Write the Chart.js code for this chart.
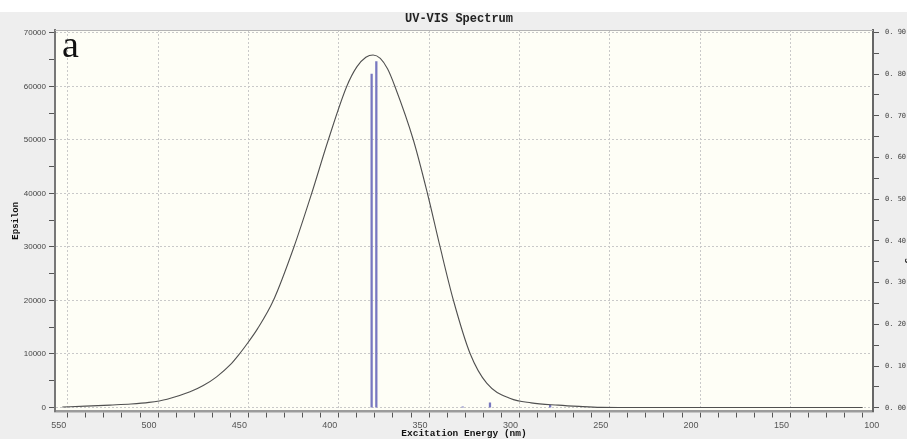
<!DOCTYPE html>
<html>
<head>
<meta charset="utf-8">
<title>UV-VIS Spectrum</title>
<script src="https://cdn.jsdelivr.net/npm/chart.js@4.4.0/dist/chart.umd.min.js"></script>
<style>
    html, body { margin: 0; padding: 0; background: #fff; overflow: hidden; }
    #panel { position: absolute; left: 0; top: 12px; width: 918px; height: 434px; background: #eeeeee; }
</style>
</head>
<body>
<div id="panel"><canvas id="uvChart"></canvas></div>
<script>
// broadened absorption band: wavelength (nm) and epsilon
const wavelengths = [548, 535, 521.6, 510, 500, 490, 477.3, 470, 462.6, 455, 450, 445, 440, 431.2,
    419.8, 410, 400.8, 390.6, 385, 380, 376, 372, 368, 363.9, 353.7, 345.9, 338.9, 331.5, 322.2,
    313, 300, 288.5, 273.6, 262, 250, 240, 200, 150, 105];
const epsilon = [80, 250, 450, 640, 950, 1550, 2930, 4100, 5730, 8000, 10000, 12250, 14700, 20000,
    30000, 40000, 50000, 60000, 63660, 65460, 65900, 65250, 63300, 60000, 50000, 40000, 30000,
    20000, 10000, 4490, 1680, 870, 440, 200, 20, 0, 0, 0, 0];

// excited states: wavelength (nm) and oscillator strength
const stateWavelengths = [376.8, 374.2, 326.4, 311.3, 278.0];
const oscStrengths = [0.80, 0.83, 0.002, 0.012, 0.006];

// axis ticks (labelled ones) and the minor step between tick marks
const xTickLabels = [550, 500, 450, 400, 350, 300, 250, 200, 150, 100];
const epsTickLabels = [0, 10000, 20000, 30000, 40000, 50000, 60000, 70000];
const oscTickLabels = [0.00, 0.10, 0.20, 0.30, 0.40, 0.50, 0.60, 0.70, 0.80, 0.90];
const xMinorStep = 10;
const epsMinorStep = 5000;
const oscMinorStep = 0.05;

function withMinor(major, step) {
    const lo = Math.min(...major), hi = Math.max(...major);
    const out = [];
    const n = Math.round((hi - lo) / step);
    for (let i = 0; i <= n; i++) out.push({ value: +(lo + i * step).toFixed(6) });
    return out;
}
function isMajor(list, v) {
    return list.some(m => Math.abs(m - v) < 1e-6);
}

const curve = wavelengths.map((w, i) => ({ x: w, y: epsilon[i] }));
const sticks = stateWavelengths.map((w, i) => ({ x: w, y: oscStrengths[i] }));

const plotFrame = {
    id: 'plotFrame',
    beforeDraw(chart) {
        const { ctx, chartArea: a } = chart;
        ctx.save();
        ctx.fillStyle = '#fefef6';
        ctx.fillRect(a.left, a.top, a.width, a.height);
        ctx.restore();
    },
    afterDraw(chart) {
        const { ctx, chartArea: a } = chart;
        ctx.save();
        ctx.strokeStyle = '#b4b4b4';
        ctx.lineWidth = 1;
        ctx.beginPath();
        ctx.moveTo(a.left, a.top + 0.5);
        ctx.lineTo(a.right, a.top + 0.5);
        ctx.stroke();
        // panel letter
        ctx.font = '38px "Liberation Serif"';
        ctx.fillStyle = '#111';
        ctx.fillText('a', a.left + 7, a.top + 27);
        ctx.restore();
    }
};

const tickFont = { family: 'Liberation Sans', size: 8 };
const gridColor = '#c9c9c9';

new Chart(document.getElementById('uvChart'), {
    type: 'scatter',
    data: {
        datasets: [{
            type: 'line',
            data: curve,
            xAxisID: 'x',
            yAxisID: 'y',
            borderColor: '#505050',
            borderWidth: 1.1,
            pointRadius: 0,
            fill: false,
            cubicInterpolationMode: 'monotone'
        }, {
            type: 'bar',
            data: sticks,
            xAxisID: 'x',
            yAxisID: 'y2',
            backgroundColor: '#7878c0',
            barThickness: 1.6
        }]
    },
    plugins: [plotFrame],
    options: {
        responsive: true,
        maintainAspectRatio: false,
        animation: false,
        layout: { padding: 0 },
        plugins: {
            legend: { display: false },
            tooltip: { enabled: false },
            title: {
                display: true,
                text: 'UV-VIS Spectrum',
                color: '#222',
                font: { family: 'Liberation Mono', size: 12, weight: 'bold' },
                padding: { top: 0, bottom: 3.6 }
            }
        },
        scales: {
            x: {
                type: 'linear',
                position: 'bottom',
                reverse: true,
                min: 99.3,
                max: 552.05,
                offset: false,
                afterBuildTicks: s => { s.ticks = withMinor(xTickLabels, xMinorStep); },
                afterFit: s => { s.height = 34.5; },
                ticks: {
                    autoSkip: false,
                    maxRotation: 0,
                    padding: 3,
                    color: '#555',
                    font: { family: 'Liberation Sans', size: 9 },
                    callback: v => isMajor(xTickLabels, v) ? String(v) : ''
                },
                grid: {
                    color: c => c.tick && isMajor(xTickLabels, c.tick.value) ? gridColor : 'rgba(0,0,0,0)',
                    tickColor: '#555',
                    tickLength: 6
                },
                border: { color: '#9b9b9b', width: 2.5, dash: [2, 2] },
                title: {
                    display: true,
                    text: 'Excitation Energy (nm)',
                    color: '#111',
                    font: { family: 'Liberation Mono', size: 9.5, weight: 'bold' },
                    padding: { top: 0, bottom: 7 }
                }
            },
            y: {
                type: 'linear',
                position: 'left',
                min: -750,
                max: 70560,
                afterBuildTicks: s => { s.ticks = withMinor(epsTickLabels, epsMinorStep); },
                afterFit: s => { s.width = 55; },
                ticks: {
                    autoSkip: false,
                    padding: 3,
                    color: '#444',
                    font: tickFont,
                    callback: v => isMajor(epsTickLabels, v) ? String(v) : ''
                },
                grid: {
                    color: c => c.tick && isMajor(epsTickLabels, c.tick.value) ? gridColor : 'rgba(0,0,0,0)',
                    tickColor: '#555',
                    tickLength: 6
                },
                border: { color: '#777', width: 2, dash: [2, 2] },
                title: {
                    display: true,
                    text: 'Epsilon',
                    color: '#111',
                    font: { family: 'Liberation Mono', size: 9, weight: 'bold' },
                    padding: { top: 10, bottom: 0 }
                }
            },
            y2: {
                type: 'linear',
                position: 'right',
                min: -0.009,
                max: 0.9055,
                afterBuildTicks: s => { s.ticks = withMinor(oscTickLabels, oscMinorStep); },
                afterFit: s => { s.width = 45; },
                ticks: {
                    autoSkip: false,
                    padding: 6,
                    color: '#444',
                    font: { family: 'DejaVu Sans Mono', size: 7 },
                    callback: v => isMajor(oscTickLabels, v) ? v.toFixed(2).replace('.', '. ') : ''
                },
                grid: {
                    drawOnChartArea: false,
                    tickColor: '#555',
                    tickLength: 6
                },
                border: { color: '#666', width: 2 },
                title: {
                    display: true,
                    text: 'Oscillator Strength',
                    color: '#111',
                    font: { family: 'Liberation Mono', size: 9.5, weight: 'bold' },
                    padding: { top: 3, bottom: 0 }
                }
            }
        }
    }
});
</script>
</body>
</html>
